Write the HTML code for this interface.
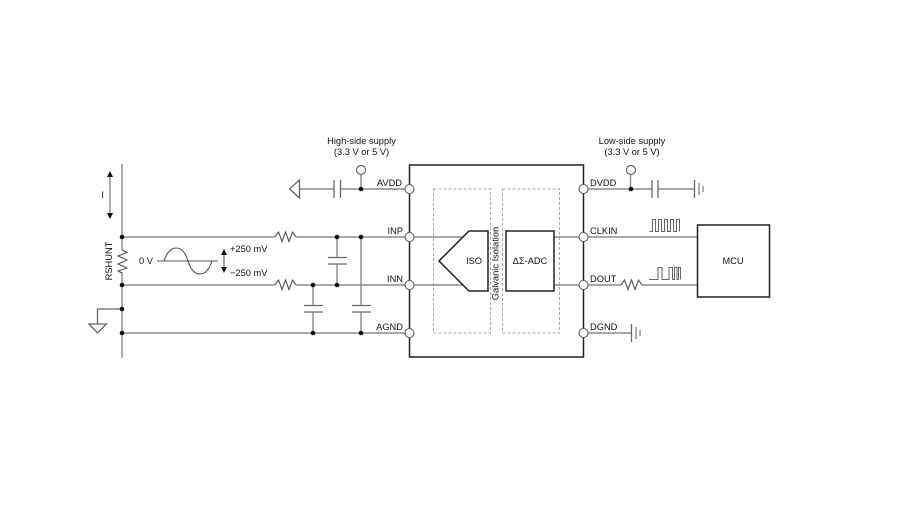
<!DOCTYPE html>
<html><head><meta charset="utf-8"><style>
html,body{margin:0;padding:0;background:#fff}
svg{display:block}
text{font-family:"Liberation Sans",sans-serif;font-size:9.3px;fill:#111}
.g{stroke:#8c8c8c;stroke-width:1.4;fill:none}
.d{stroke:#666;stroke-width:1.3;fill:none}
.k{stroke:#222;stroke-width:1.5;fill:none}
.s{stroke:#555;stroke-width:1.1;fill:none}
</style></head><body>
<svg width="916" height="528" viewBox="0 0 916 528" xmlns="http://www.w3.org/2000/svg">
<rect width="916" height="528" fill="#fff"/>
<!-- left rail -->
<path class="g" d="M122 164V250M122 272V358M122 237H275M296 237H409M122 285H275M296 285H409M122 333H409"/>
<path class="d" d="M122 309H97.500V324M89 324H106.500L97.500 333Z"/>
<path class="s" d="M122 250L127 252.500L118 256L127 260L118 264L127 268L118 271L122 273"/>
<path class="s" d="M275 237L278.500 232L282 241.500L285.500 232L289 241.500L292.500 232L296 237"/>
<path class="s" d="M275 285L278.500 280L282 289.500L285.500 280L289 289.500L292.500 280L296 285"/>
<!-- current arrow -->
<path class="g" d="M110 176V214"/>
<path d="M110 171l-3 6h6zM110 219l-3-6h6z" fill="#111"/>
<!-- wave -->
<path class="s" d="M157 261H218"/>
<path class="s" d="M164 261C167 252 171 248 176 248C183 248 186 255 188 261C190 267 193 274 200 274C205 274 209 270 212 261"/>
<path class="s" d="M224 254V268"/>
<path d="M224 249l-3 6h6zM224 273l-3-6h6z" fill="#111"/>
<!-- caps left -->
<path class="g" d="M337 237V257M337 264V285M313 285V305M313 312V333M361 237V305M361 312V333"/>
<path class="d" d="M328 257.500H347M328 264H347M304 305.500H323M304 312H323M352 305.500H371M352 312H371"/>
<!-- avdd -->
<path class="g" d="M299 189H334M341 189H409M361 175V189"/>
<path class="d" d="M334 180V198M340.500 180V198M299.500 180V198L289.500 189Z"/>
<circle cx="361" cy="170" r="4.500" fill="#fff" stroke="#666" stroke-width="1.200"/>
<!-- chip -->
<rect x="409.500" y="165" width="174" height="192" fill="none" stroke="#222" stroke-width="1.500"/>
<rect x="433.500" y="189" width="57" height="144" fill="none" stroke="#aaa" stroke-width="1" stroke-dasharray="3 2"/>
<rect x="502.500" y="189" width="57" height="144" fill="none" stroke="#aaa" stroke-width="1" stroke-dasharray="3 2"/>
<path class="g" d="M409 237H464M409 285H464M553 237H583M553 285H583"/>
<path d="M469 231H488V291H469L439 261Z" fill="#fff" stroke="#222" stroke-width="1.500"/>
<rect x="506" y="231" width="48" height="60" fill="#fff" stroke="#222" stroke-width="1.500"/>
<!-- right side -->
<path class="g" d="M583 189H652M658 189H694M583 237H697M583 285H621M642 285H697M583 333H631M630.500 189V175"/>
<path class="s" d="M621 285L624.500 280L628 289.500L631.500 280L635 289.500L638.500 280L642 285"/>
<path class="d" d="M652 180V198M658 180V198M694.500 180V198M631.500 324V342"/>
<path class="g" d="M699 183V195M703 186V192M636 327V339M640 330V336"/>
<circle cx="631" cy="170" r="4.500" fill="#fff" stroke="#666" stroke-width="1.200"/>
<rect x="697.500" y="225" width="72" height="72" fill="#fff" stroke="#222" stroke-width="1.500"/>
<!-- waveforms -->
<path d="M649.500 231.500H652.500V219.500H655.500V231.500H658.500V219.500H661.500V231.500H664.500V219.500H667.500V231.500H670.500V219.500H673.500V231.500H676.500V219.500H679.500V231.500" fill="none" stroke="#666" stroke-width="1"/>
<path d="M649 279.500H658V267.500H662V279.500H669V267.500H672.500V279.500H674.500V267.500H677V279.500H678.500V267.500H680.500V279.500" fill="none" stroke="#666" stroke-width="1"/>
<!-- pins -->
<g fill="#fff" stroke="#555" stroke-width="1">
<circle cx="409.500" cy="189" r="4.500"/><circle cx="409.500" cy="237" r="4.500"/><circle cx="409.500" cy="285" r="4.500"/><circle cx="409.500" cy="333" r="4.500"/>
<circle cx="583.500" cy="189" r="4.500"/><circle cx="583.500" cy="237" r="4.500"/><circle cx="583.500" cy="285" r="4.500"/><circle cx="583.500" cy="333" r="4.500"/>
</g>
<!-- dots -->
<g fill="#111">
<circle cx="122" cy="237" r="2.300"/><circle cx="122" cy="285" r="2.300"/><circle cx="122" cy="309" r="2.300"/><circle cx="122" cy="333" r="2.300"/>
<circle cx="337" cy="237" r="2.300"/><circle cx="361" cy="237" r="2.300"/><circle cx="313" cy="285" r="2.300"/><circle cx="337" cy="285" r="2.300"/><circle cx="313" cy="333" r="2.300"/><circle cx="361" cy="333" r="2.300"/>
<circle cx="361" cy="189" r="2.300"/><circle cx="631" cy="189" r="2.300"/>
</g>
<!-- labels -->
<text x="361.500" y="144" text-anchor="middle">High-side supply</text>
<text x="361.500" y="155" text-anchor="middle">(3.3 V or 5 V)</text>
<text x="632" y="144" text-anchor="middle">Low-side supply</text>
<text x="632" y="155" text-anchor="middle">(3.3 V or 5 V)</text>
<text x="402" y="186" text-anchor="end">AVDD</text>
<text x="403" y="234" text-anchor="end">INP</text>
<text x="403" y="282" text-anchor="end">INN</text>
<text x="403" y="330" text-anchor="end">AGND</text>
<text x="590" y="186">DVDD</text>
<text x="590" y="234">CLKIN</text>
<text x="590" y="282">DOUT</text>
<text x="590" y="330">DGND</text>
<text x="474" y="264" text-anchor="middle">ISO</text>
<text x="530" y="264" text-anchor="middle">ΔΣ-ADC</text>
<text x="733" y="264" text-anchor="middle">MCU</text>
<text x="102.700" y="198" text-anchor="middle">I</text>
<text x="139" y="264">0 V</text>
<text x="230" y="252">+250 mV</text>
<text x="230" y="276">−250 mV</text>
<text transform="translate(112 261) rotate(-90)" text-anchor="middle">RSHUNT</text>
<text transform="translate(498.500 263.500) rotate(-90)" text-anchor="middle">Galvanic Isolation</text>
</svg>
</body></html>
